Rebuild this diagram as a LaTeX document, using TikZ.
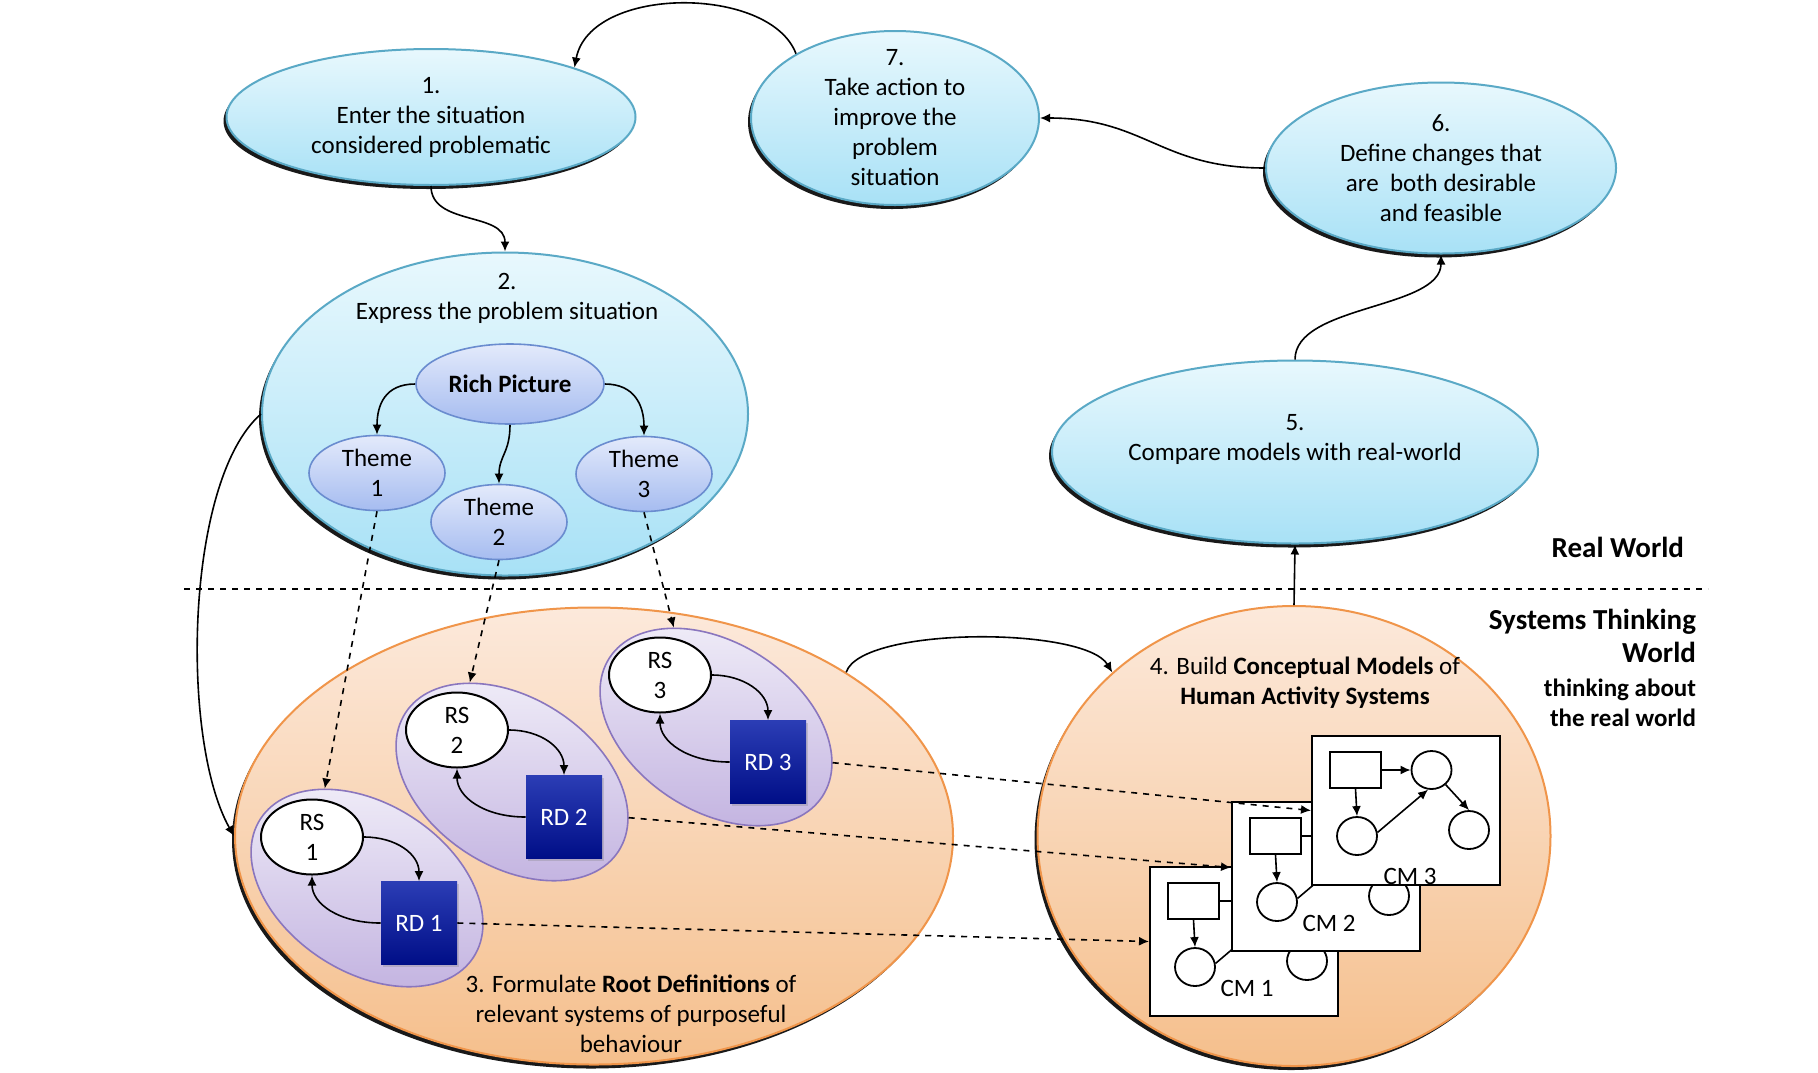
\documentclass[tikz,border=0pt]{standalone}
\usepackage{fontspec}
\setmainfont{Carlito}
\usetikzlibrary{shapes.geometric,shadows,arrows.meta}

\definecolor{stageline}{HTML}{5AA9C6}
\definecolor{stagetop}{HTML}{E8F8FD}
\definecolor{stagebot}{HTML}{A8E1F6}
\definecolor{buildline}{HTML}{F0954A}
\definecolor{buildtop}{HTML}{FCE9DB}
\definecolor{buildbot}{HTML}{F5BF8C}
\definecolor{themeline}{HTML}{6A8CCF}
\definecolor{themetop}{HTML}{E3EAFB}
\definecolor{themebot}{HTML}{A6BCF0}
\definecolor{groupline}{HTML}{8A76BE}
\definecolor{grouptop}{HTML}{F0EDF8}
\definecolor{groupbot}{HTML}{C2B2E0}
\definecolor{rdtop}{HTML}{2B3DB5}
\definecolor{rdbot}{HTML}{000E87}

\tikzset{
  bluestage/.style={ellipse, draw=stageline, line width=1pt, top color=stagetop, bottom color=stagebot,
    inner sep=0pt, align=center, drop shadow={shadow xshift=-1.5pt, shadow yshift=-2pt, fill=black, opacity=0.9}},
  orangestage/.style={ellipse, draw=buildline, line width=1pt, top color=buildtop, bottom color=buildbot,
    inner sep=0pt, drop shadow={shadow xshift=-1.5pt, shadow yshift=-2pt, fill=black, opacity=0.9}},
  themebubble/.style={ellipse, draw=themeline, line width=0.8pt, top color=themetop, bottom color=themebot,
    inner sep=0pt, align=center, minimum width=68pt, minimum height=37.5pt},
  rdgroup/.style={ellipse, draw=groupline, line width=0.8pt, top color=grouptop, bottom color=groupbot,
    rotate=-33, inner sep=0pt, minimum width=127pt, minimum height=84pt},
  rsnode/.style={ellipse, draw, line width=1pt, fill=white, inner sep=0pt, align=center,
    minimum width=51pt, minimum height=37.5pt},
  rdnode/.style={rectangle, top color=rdtop, bottom color=rdbot, text=white, inner sep=0pt,
    minimum width=38pt, minimum height=41.5pt, drop shadow={shadow xshift=1pt, shadow yshift=-1pt, opacity=0.3}},
  cmbox/.style={rectangle, draw, line width=1pt, fill=white, inner sep=0pt, minimum width=94pt, minimum height=74.5pt},
  cmrect/.style={rectangle, draw, line width=0.9pt, inner sep=0pt, minimum width=25.5pt, minimum height=18pt},
  cmcirc/.style={ellipse, draw, line width=0.9pt, inner sep=0pt, minimum width=20pt, minimum height=19pt}
}

\begin{document}
\begin{tikzpicture}[x=0.5pt, y=-0.5pt, font=\fontsize{12.5}{15}\selectfont, >={Latex[length=5pt,width=4.5pt]}]
\path[fill=white, use as bounding box] (0,0) rectangle (1818,1072);

% the two worlds
\draw[thick, dashed] (184,589) -- (1708,589);
\node[anchor=east, font=\fontsize{14.5}{17}\selectfont\bfseries] (realworld) at (1691,547) {Real World};
\node[anchor=east, align=right, font=\fontsize{12.5}{16.5}\selectfont\bfseries] (stworld) at (1703,668)
  {{\fontsize{14.5}{16.5}\selectfont Systems Thinking}\\{\fontsize{14.5}{16.5}\selectfont World}\\[0.5pt]thinking about\\[-1.5pt]the real world};

% stages 1, 7, 6, 5
\node[bluestage, minimum width=204.5pt, minimum height=68pt] (enter) at (431,117) {1.\\Enter the situation\\considered problematic};
\node[bluestage, minimum width=144pt, minimum height=87pt, inner sep=-5pt] (action) at (895,118) {7.\\Take action to\\improve the\\problem\\situation};
\node[bluestage, minimum width=175pt, minimum height=85.5pt] (changes) at (1441,168) {6.\\Define changes that\\are~ both desirable\\and feasible};
\node[bluestage, minimum width=243pt, minimum height=91.5pt] (compare) at (1295,452) {5.\\Compare models with real-world\\\mbox{}};

\draw[->, thick] (action.147) .. controls (770,-15) and (590,-15) .. (enter.19);
\draw[->, thick] (changes.west) .. controls +(-105,0) and +(105,0) .. (action.east);
\draw[->, thick] (compare.north) .. controls +(0,-55) and +(0,55) .. (changes.south);

% stage 2
\node[bluestage, minimum width=243pt, minimum height=161.5pt] (express) at (505,414) {};
\node[align=center] (expresstext) at (507,298) {2.\\Express the problem situation};
\node[themebubble, minimum width=94pt, minimum height=40pt, font=\fontsize{12.5}{15}\selectfont\bfseries] (rich) at (510,384) {Rich Picture};
\node[themebubble] (theme1) at (377,473) {Theme\\1};
\node[themebubble] (theme2) at (499,522) {Theme\\2};
\node[themebubble] (theme3) at (644,474) {Theme\\3};

\draw[->, thick] (rich.west) .. controls +(-30,0) and +(0,-30) .. (theme1.north);
\draw[->, thick] (rich.east) .. controls +(30,0) and +(0,-30) .. (theme3.north);
\draw[->, thick] (rich.south) .. controls +(0,28) and +(0,-28) .. (theme2.north);
\draw[->, thick] (enter.south) .. controls +(0,40) and +(0,-40) .. (express.north);

% stages 3 and 4
\node[orangestage, minimum width=359pt, minimum height=228.5pt] (formulate) at (594,836) {};
\node[align=center] (formulatetext) at (631,1014) {3. Formulate \textbf{Root Definitions} of\\relevant systems of purposeful\\behaviour};
\node[orangestage, minimum width=256.5pt, minimum height=230pt] (build) at (1294,836) {};
\node[align=center] (buildtext) at (1305,683) {4. Build \textbf{Conceptual Models} of\\\textbf{Human Activity Systems}};

% root definitions
\node[rdgroup] (group1) at (367,888) {};
\node[rsnode] (rs1) at (312,837) {RS\\1};
\node[rdnode] (rd1) at (419,923) {RD 1};
\draw[->, thick] (rs1.east) .. controls +(32,0) and +(0,-27) .. (rd1.north);
\draw[->, thick] (rd1.west) .. controls +(-42,0) and +(0,28) .. (rs1.south);

\node[rdgroup] (group2) at (512,782) {};
\node[rsnode] (rs2) at (457,730) {RS\\2};
\node[rdnode] (rd2) at (564,817) {RD 2};
\draw[->, thick] (rs2.east) .. controls +(32,0) and +(0,-27) .. (rd2.north);
\draw[->, thick] (rd2.west) .. controls +(-42,0) and +(0,28) .. (rs2.south);

\node[rdgroup] (group3) at (716,727) {};
\node[rsnode] (rs3) at (660,675) {RS\\3};
\node[rdnode] (rd3) at (768,762) {RD 3};
\draw[->, thick] (rs3.east) .. controls +(32,0) and +(0,-27) .. (rd3.north);
\draw[->, thick] (rd3.west) .. controls +(-42,0) and +(0,28) .. (rs3.south);

% conceptual models
\node[cmbox] (cm1) at (1244,941.5) {};
\node[cmrect] (cm1a) at (1193.5,901) {};
\node[cmcirc] (cm1b) at (1269.5,901) {};
\node[cmcirc] (cm1c) at (1195,967) {};
\node[cmcirc] (cm1d) at (1307,961) {};
\node (cm1label) at (1247,988) {CM 1};
\draw[->, thick] (cm1a.east) -- (cm1b.west);
\draw[->, thick] (cm1a.south) -- (cm1c.north);
\draw[->, thick] (cm1c.10) -- (cm1b.-100);
\draw[->, thick] (cm1b.-46) -- (cm1d.north);

\node[cmbox] (cm2) at (1326,876.5) {};
\node[cmrect] (cm2a) at (1275.5,836) {};
\node[cmcirc] (cm2b) at (1351.5,836) {};
\node[cmcirc] (cm2c) at (1277,902) {};
\node[cmcirc] (cm2d) at (1389,896) {};
\node (cm2label) at (1329,923) {CM 2};
\draw[->, thick] (cm2a.east) -- (cm2b.west);
\draw[->, thick] (cm2a.south) -- (cm2c.north);
\draw[->, thick] (cm2c.10) -- (cm2b.-100);
\draw[->, thick] (cm2b.-46) -- (cm2d.north);

\node[cmbox] (cm3) at (1406,810.5) {};
\node[cmrect] (cm3a) at (1355.5,770) {};
\node[cmcirc] (cm3b) at (1431.5,770) {};
\node[cmcirc] (cm3c) at (1357,836) {};
\node[cmcirc] (cm3d) at (1469,830) {};
\node (cm3label) at (1410,876) {CM 3};
\draw[->, thick] (cm3a.east) -- (cm3b.west);
\draw[->, thick] (cm3a.south) -- (cm3c.north);
\draw[->, thick] (cm3c.10) -- (cm3b.-100);
\draw[->, thick] (cm3b.-46) -- (cm3d.north);

% links between the stages
\draw[->, thick, dashed] (theme1.south) -- (group1.146);
\draw[->, thick, dashed] (theme2.south) -- (group2.146);
\draw[->, thick, dashed] (theme3.south) -- (group3.146);
\draw[->, thick] (express.west) .. controls (185,480) and (180,740) .. (formulate.west);
\draw[->, thick] (formulate.33) .. controls +(15,-46) and +(-28,-46) .. (build.138);
\draw[->, thick] (build.north) -- (compare.south);
\draw[->, thick, dashed] (rd1.east) -- (cm1.west);
\draw[->, thick, dashed] (group2.16) -- ([yshift=4.5pt]cm2.west);
\draw[->, thick, dashed] (group3.16) -- (cm3.west);

\end{tikzpicture}
\end{document}
